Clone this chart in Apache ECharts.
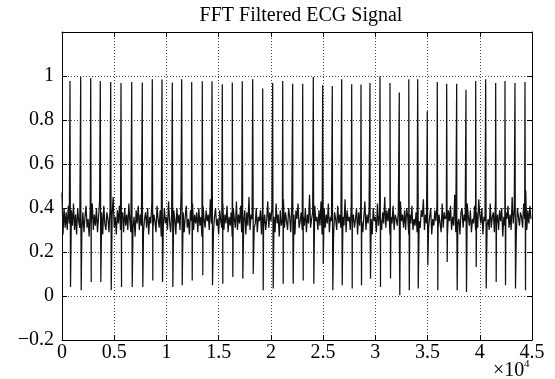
<!DOCTYPE html>
<html>
<head>
<meta charset="utf-8">
<script src="https://cdn.jsdelivr.net/npm/echarts@6/dist/echarts.min.js"></script>
<style>
html,body{margin:0;padding:0;background:#fff;}
#chart{width:555px;height:379px;}
</style>
</head>
<body>
<div id="chart"></div>
<script>
// ---- data ----
var titleText = 'FFT Filtered ECG Signal';
var xTickLabels = ['0','0.5','1','1.5','2','2.5','3','3.5','4','4.5'];
var yTickLabels = ['\u22120.2','0','0.2','0.4','0.6','0.8','1',''];
var xExponent = '4';

// R-peak sample positions, peak heights and trough heights
var beatSamples = [766,1790,2748,3667,4663,5649,6673,7688,8645,9574,10560,11460,12418,13432,14361,15347,16304,17262,18257,19215,20172,21130,22087,23045,24060,24960,25879,26779,27736,28626,29488,30445,31403,32293,33202,34055,34974,35931,36831,37789,38679,39608,40565,41522,42413,43370,44328];
var beatPeaks = [0.977,0.995,0.991,0.977,0.973,0.968,0.973,0.970,0.985,0.984,0.970,0.985,0.973,0.976,0.976,0.962,0.970,0.976,0.985,0.943,0.968,0.977,0.965,0.965,0.995,0.958,0.955,0.985,0.962,0.961,0.968,0.999,0.968,0.925,0.985,0.985,0.840,0.973,0.965,0.965,0.938,0.977,0.985,0.968,0.977,0.968,0.973];
var beatTroughs = [0.041,0.026,0.064,0.064,0.026,0.041,0.041,0.041,0.071,0.064,0.041,0.049,0.071,0.094,0.049,0.056,0.086,0.079,0.100,0.026,0.034,0.056,0.056,0.071,0.056,0.147,0.026,0.049,0.034,0.049,0.079,0.041,0.079,0.003,0.026,0.034,0.140,0.026,0.155,0.026,0.018,0.132,0.034,0.064,0.049,0.034,0.026];

// baseline band (one value every 100 samples)
var noiseStep = 100;
var noise = [
0.47,0.28,0.40,0.31,0.38,0.30,0.41,0.33,0.29,0.39,
0.32,0.42,0.30,0.37,0.28,0.40,0.34,0.31,0.44,0.30,
0.38,0.29,0.36,0.41,0.31,0.35,0.27,0.39,0.33,0.42,
0.30,0.37,0.32,0.40,0.29,0.36,0.43,0.31,0.38,0.28,
0.41,0.33,0.30,0.38,0.35,0.29,0.40,0.32,0.37,0.45,
0.31,0.36,0.28,0.39,0.33,0.41,0.30,0.35,0.38,0.29,
0.40,0.32,0.37,0.30,0.42,0.34,0.29,0.38,0.31,0.36,
0.27,0.39,0.33,0.41,0.30,0.37,0.32,0.44,0.29,0.35,
0.38,0.31,0.40,0.28,0.36,0.33,0.42,0.30,0.37,0.34,
0.29,0.41,0.35,0.31,0.39,0.27,0.38,0.32,0.40,0.33,
0.36,0.30,0.43,0.34,0.29,0.37,0.31,0.39,0.35,0.28,
0.40,0.33,0.37,0.30,0.46,0.32,0.38,0.29,0.36,0.41,
0.31,0.35,0.28,0.39,0.34,0.42,0.30,0.37,0.33,0.38,
0.29,0.40,0.32,0.36,0.27,0.41,0.35,0.31,0.39,0.34,
0.37,0.30,0.44,0.33,0.38,0.29,0.36,0.40,0.32,0.35,
0.28,0.39,0.34,0.31,0.42,0.30,0.37,0.33,0.41,0.29,
0.36,0.32,0.38,0.27,0.40,0.35,0.31,0.43,0.30,0.37,
0.33,0.41,0.29,0.36,0.34,0.39,0.28,0.38,0.32,0.45,
0.30,0.37,0.35,0.42,0.31,0.33,0.40,0.29,0.36,0.34,
0.39,0.28,0.41,0.32,0.37,0.30,0.35,0.43,0.31,0.38,
0.34,0.40,0.30,0.36,0.29,0.42,0.33,0.37,0.27,0.39,
0.32,0.35,0.44,0.31,0.38,0.34,0.30,0.40,0.36,0.29,
0.41,0.33,0.37,0.28,0.39,0.35,0.42,0.31,0.34,0.38,
0.30,0.36,0.32,0.40,0.29,0.37,0.33,0.46,0.31,0.35,
0.38,0.29,0.41,0.34,0.36,0.30,0.39,0.32,0.43,0.28,
0.35,0.40,0.31,0.37,0.33,0.42,0.29,0.36,0.34,0.39,
0.27,0.38,0.35,0.30,0.41,0.33,0.37,0.31,0.40,0.36,
0.32,0.44,0.29,0.39,0.34,0.36,0.30,0.42,0.33,0.37,
0.31,0.35,0.40,0.28,0.38,0.32,0.41,0.34,0.29,0.36,
0.43,0.30,0.37,0.33,0.39,0.31,0.35,0.28,0.40,0.34,
0.36,0.29,0.42,0.32,0.37,0.35,0.30,0.38,0.33,0.45,
0.31,0.39,0.34,0.40,0.28,0.36,0.33,0.41,0.30,0.37,
0.35,0.32,0.38,0.29,0.43,0.34,0.37,0.31,0.39,0.30,
0.40,0.36,0.28,0.37,0.33,0.41,0.30,0.35,0.32,0.38,
0.29,0.42,0.34,0.31,0.39,0.36,0.44,0.30,0.37,0.33,
0.38,0.31,0.36,0.40,0.28,0.35,0.32,0.39,0.34,0.41,
0.30,0.37,0.33,0.29,0.42,0.31,0.38,0.35,0.36,0.27,
0.39,0.34,0.41,0.30,0.36,0.32,0.46,0.29,0.37,0.33,
0.35,0.28,0.38,0.40,0.31,0.37,0.34,0.30,0.42,0.36,
0.32,0.39,0.29,0.35,0.33,0.41,0.30,0.38,0.31,0.44,
0.37,0.33,0.40,0.28,0.36,0.34,0.39,0.32,0.35,0.30,
0.42,0.31,0.36,0.38,0.29,0.43,0.33,0.37,0.30,0.39,
0.34,0.40,0.27,0.36,0.32,0.38,0.35,0.41,0.31,0.37,
0.30,0.45,0.33,0.39,0.34,0.29,0.40,0.36,0.32,0.38,
0.36,0.31,0.42,0.35,0.48,0.30,0.39,0.33,0.41,0.35
];

// ---- build the series points ----
var pts = [];
for (var i = 0; i < noise.length; i++) pts.push([i * noiseStep, noise[i]]);
for (var b = 0; b < beatSamples.length; b++) {
  pts.push([beatSamples[b], beatPeaks[b]]);
  pts.push([beatSamples[b] + 50, beatTroughs[b]]);
}
pts.sort(function (a, c) { return a[0] - c[0]; });

var serif = '"Liberation Serif","DejaVu Serif",serif';
var chart = echarts.init(document.getElementById('chart'), null, {renderer: 'canvas'});
var gridLine = {show: true, lineStyle: {color: '#444', width: 1, type: [1, 2]}};

chart.setOption({
  animation: false,
  backgroundColor: '#fff',
  grid: {left: 62, right: 23, top: 32, bottom: 39, show: false},
  xAxis: [{
    type: 'value', min: 0, max: 45000, interval: 5000, position: 'bottom',
    axisLine: {show: true, onZero: false, lineStyle: {color: '#000', width: 1}},
    axisTick: {show: true, inside: true, length: 5, lineStyle: {color: '#000'}},
    axisLabel: {
      color: '#000', fontFamily: serif, fontSize: 20, margin: 3,
      formatter: function (v) { return xTickLabels[Math.round(v / 5000)]; }
    },
    splitLine: gridLine
  }, {
    type: 'value', min: 0, max: 45000, interval: 5000, position: 'top',
    axisLine: {show: true, onZero: false, lineStyle: {color: '#000', width: 1}},
    axisTick: {show: true, inside: true, length: 5, lineStyle: {color: '#000'}},
    axisLabel: {show: false}, splitLine: {show: false}
  }],
  yAxis: [{
    type: 'value', min: -0.2, max: 1.2, interval: 0.2, position: 'left',
    axisLine: {show: true, onZero: false, lineStyle: {color: '#000', width: 1}},
    axisTick: {show: true, inside: true, length: 5, lineStyle: {color: '#000'}},
    axisLabel: {
      color: '#000', fontFamily: serif, fontSize: 20, margin: 8, padding: [6, 0, 0, 0],
      formatter: function (v) { return yTickLabels[Math.round((v + 0.2) / 0.2)]; }
    },
    splitLine: gridLine
  }, {
    type: 'value', min: -0.2, max: 1.2, interval: 0.2, position: 'right',
    axisLine: {show: true, onZero: false, lineStyle: {color: '#000', width: 1}},
    axisTick: {show: true, inside: true, length: 5, lineStyle: {color: '#000'}},
    axisLabel: {show: false}, splitLine: {show: false}
  }],
  series: [{
    type: 'line', data: pts, xAxisIndex: 0, yAxisIndex: 0,
    showSymbol: false, symbol: 'none', sampling: null,
    lineStyle: {color: '#111', width: 1.25},
    clip: true
  }],
  graphic: [
    {type: 'text', x: 301, y: 16,
     style: {text: titleText, font: '20px ' + serif, fill: '#000', textAlign: 'center', textVerticalAlign: 'middle'}},
    {type: 'text', x: 493, y: 371,
     style: {text: '\u00d710', font: '20px ' + serif, fill: '#000', textAlign: 'left', textVerticalAlign: 'middle'}},
    {type: 'text', x: 524, y: 364,
     style: {text: xExponent, font: '11px ' + serif, fill: '#000', textAlign: 'left', textVerticalAlign: 'middle'}}
  ]
});
</script>
</body>
</html>
